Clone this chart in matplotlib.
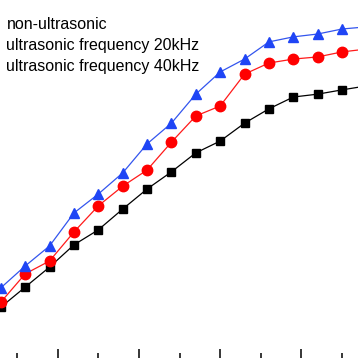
import matplotlib
matplotlib.use("Agg")
import matplotlib.pyplot as plt
from matplotlib.ticker import MultipleLocator

# drying time (min) and measured values for the three treatments
time_min = [3, 6, 9, 12, 15, 18, 21, 24, 27, 30, 33, 36, 39, 42, 45, 48]
non_ultra = [14.2, 19.8, 25.4, 31.6, 35.8, 41.6, 47.2, 52.0, 57.3, 60.6,
             65.6, 69.6, 72.9, 73.7, 74.9, 76.0]
ultra_20k = [15.6, 23.5, 27.1, 35.2, 42.5, 48.0, 52.5, 60.3, 67.6, 70.4,
             79.3, 82.4, 83.5, 84.1, 85.5, 86.3]
ultra_40k = [19.6, 25.7, 31.3, 40.5, 45.8, 51.7, 59.8, 65.6, 73.7, 79.9,
             83.5, 88.3, 89.7, 90.5, 91.9, 92.5]
labels = ["non-ultrasonic", "ultrasonic frequency 20kHz", "ultrasonic frequency 40kHz"]

fig = plt.figure(figsize=(3.58, 3.58), dpi=100)
ax = fig.add_axes([0, 0, 1, 1])

ax.plot(time_min, non_ultra, color="black", lw=0.9, marker="s", ms=6,
        mfc="black", mec="black")
ax.plot(time_min, ultra_20k, color="#ff1a1a", lw=0.9, marker="o", ms=7.5,
        mfc="#ff0000", mec="#ff0000")
ax.plot(time_min, ultra_40k, color="#3355ee", lw=0.9, marker="^", ms=7.8,
        mfc="#1f45f5", mec="#1f45f5")

ax.set_xlim(2.9, 46.96)
ax.set_ylim(0, 100)

# legend text (handles are cut off in the original)
for i, lab in enumerate(labels):
    ax.text(0.018, 1 - (29.3 + 20.7 * i) / 358, lab, transform=ax.transAxes,
            fontsize=11.5, family="Liberation Sans", va="baseline", ha="left")

ax.xaxis.set_major_locator(MultipleLocator(10))
ax.xaxis.set_minor_locator(MultipleLocator(5))
ax.tick_params(axis="x", which="major", direction="in", length=6.5, width=1.1,
               labelbottom=False, top=False)
ax.tick_params(axis="x", which="minor", direction="in", length=3.5, width=1.1,
               top=False)
ax.tick_params(axis="y", which="both", left=False, labelleft=False)
for s in ax.spines.values():
    s.set_visible(False)

fig.savefig("out.png", dpi=100)
